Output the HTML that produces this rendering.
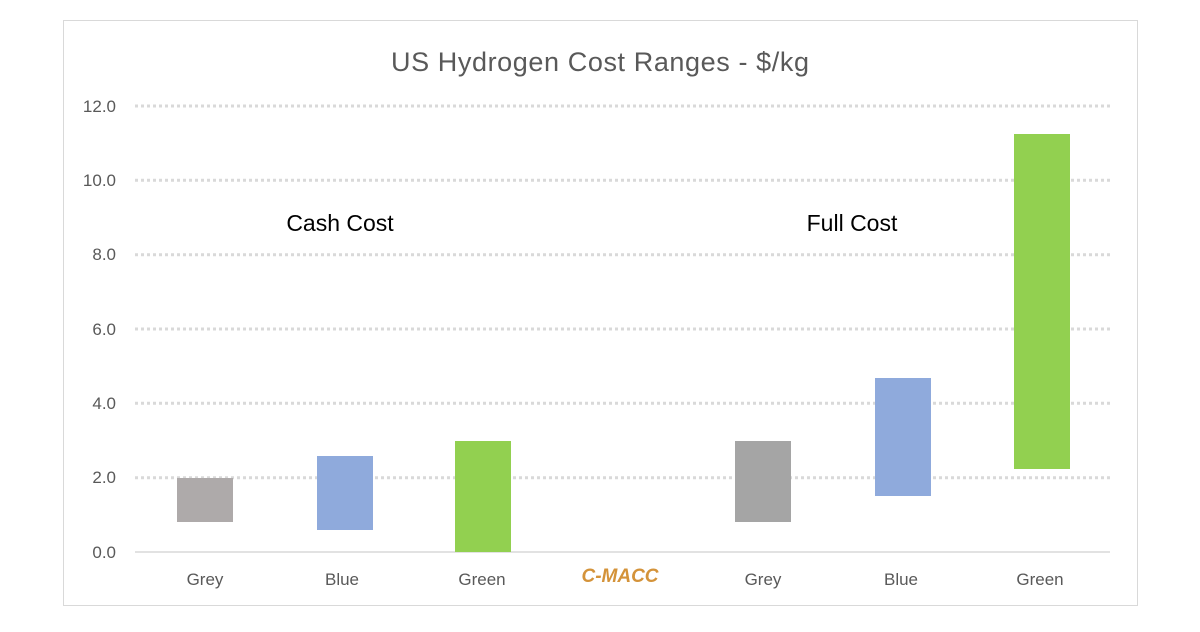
<!DOCTYPE html>
<html><head><meta charset="utf-8"><style>
body{margin:0;background:#fff;width:1200px;height:627px;overflow:hidden;font-family:"Liberation Sans",sans-serif}
</style></head><body>
<svg width="1200" height="627" xmlns="http://www.w3.org/2000/svg" font-family="Liberation Sans, sans-serif">
<rect x="63.5" y="20.5" width="1074" height="585" fill="#fff" stroke="#d9d9d9"/>
<text x="600" y="71" text-anchor="middle" font-size="27" fill="#595959" textLength="418">US Hydrogen Cost Ranges - $/kg</text>
<g stroke="#d9d9d9" stroke-width="3" stroke-dasharray="3,3">
<line x1="135" x2="1110" y1="106" y2="106"/>
<line x1="135" x2="1110" y1="180.3" y2="180.3"/>
<line x1="135" x2="1110" y1="254.7" y2="254.7"/>
<line x1="135" x2="1110" y1="329" y2="329"/>
<line x1="135" x2="1110" y1="403.3" y2="403.3"/>
<line x1="135" x2="1110" y1="477.7" y2="477.7"/>
</g>
<line x1="135" x2="1110" y1="552" y2="552" stroke="#d9d9d9" stroke-width="1.5"/>
<g font-size="17" fill="#595959" text-anchor="end">
<text x="116" y="112">12.0</text><text x="116" y="186">10.0</text><text x="116" y="260">8.0</text>
<text x="116" y="335">6.0</text><text x="116" y="409">4.0</text><text x="116" y="483">2.0</text><text x="116" y="558">0.0</text>
</g>
<rect x="177" y="478" width="56" height="44" fill="#aeaaaa"/>
<rect x="317" y="456" width="56" height="74" fill="#8faadc"/>
<rect x="455" y="441" width="56" height="111" fill="#92d050"/>
<rect x="735" y="441" width="56" height="81" fill="#a5a5a5"/>
<rect x="875" y="378" width="56" height="118" fill="#8faadc"/>
<rect x="1014" y="134" width="56" height="335" fill="#92d050"/>
<g font-size="17" fill="#595959" text-anchor="middle">
<text x="205" y="585">Grey</text><text x="342" y="585">Blue</text><text x="482" y="585">Green</text>
<text x="763" y="585">Grey</text><text x="901" y="585">Blue</text><text x="1040" y="585">Green</text>
</g>
<text x="620" y="582" text-anchor="middle" font-size="19" font-weight="bold" font-style="italic" fill="#d4933a">C-MACC</text>
<text x="340" y="231" text-anchor="middle" font-size="23" fill="#000">Cash Cost</text>
<text x="852" y="231" text-anchor="middle" font-size="23" fill="#000">Full Cost</text>
</svg>
</body></html>
